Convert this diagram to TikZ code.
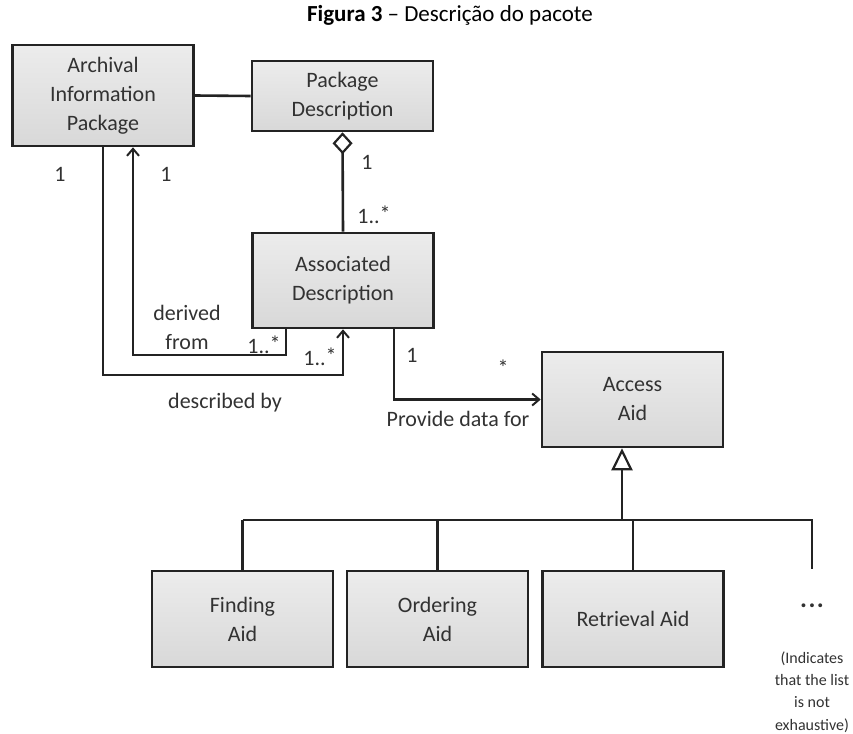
\documentclass[tikz,border=0pt]{standalone}
\usepackage{fontspec}
\setmainfont{Carlito}
\usetikzlibrary{arrows.meta}

\definecolor{ink}{RGB}{50,50,50}
\definecolor{edge}{RGB}{35,35,35}
\definecolor{boxtop}{RGB}{236,236,236}
\definecolor{boxbot}{RGB}{216,216,216}

\tikzset{
  classbox/.style={draw=edge, line width=2.6pt, top color=boxtop, bottom color=boxbot,
    minimum width=181pt, inner sep=0pt, align=center, text=ink,
    font=\fontsize{22}{29}\selectfont},
  lbl/.style={text=ink, inner sep=0pt, font=\fontsize{22}{29}\selectfont, align=center},
  link/.style={draw=edge, line width=2.6pt},
  arr/.style={link, -{Straight Barb[length=7pt,width=12pt,line width=2pt]}},
  gen/.style={link, -{Triangle[open,length=22pt,width=21pt,line width=2.2pt]}},
  agg/.style={link, {Diamond[open,length=22pt,width=20pt,line width=2.2pt]}-},
}

\begin{document}
\begin{tikzpicture}[x=1pt,y=-1pt]
\useasboundingbox (0,0) rectangle (853,733);

% title
\node[inner sep=0pt, font=\fontsize{23}{27}\selectfont] (title) at (450,15)
  {\textbf{Figura 3} – Descrição do pacote};

% classes
\node[classbox, minimum height=101pt] (AIP) at (103,95.5) {Archival\\Information\\Package};
\node[classbox, minimum height=70pt]  (PD)  at (342.5,96) {Package\\Description};
\node[classbox, minimum height=95pt]  (AD)  at (343,280.5) {Associated\\Description};
\node[classbox, minimum height=95pt]  (AA)  at (632.5,399.5) {Access\\Aid};
\node[classbox, minimum height=96pt]  (FA)  at (242.5,619) {Finding\\Aid};
\node[classbox, minimum height=96pt]  (OA)  at (437.5,619) {Ordering\\Aid};
\node[classbox, minimum height=96pt]  (RA)  at (633,619) {Retrieval Aid};

% association between the package and its description
\draw[link] (AIP.east) -- (PD.west);

% aggregation
\draw[agg] (PD.south) -- (AD.north);

% derived from
\coordinate (dfA) at (286,355);
\coordinate (dfB) at (133,355);
\draw[arr] (AD.south -| dfA) -- (dfA) -- (dfB) -- (dfB |- AIP.south);

% described by
\coordinate (dbA) at (103,375);
\draw[arr] (AIP.south) -- (dbA) -| (AD.south);

% provide data for
\coordinate (pd) at (394,300);
\draw[arr] (AD.south -| pd) |- (AA.west);

% generalization tree
\coordinate (bar) at (622,520);
\coordinate (barL) at (242.5,520);
\coordinate (barR) at (812,520);
\coordinate (more) at (812,569);
\draw[gen] (bar) -- (bar |- AA.south);
\draw[link] (barL) -- (barR) -- (more);
\draw[link] (FA.north) -- (FA.north |- bar);
\draw[link] (OA.north) -- (OA.north |- bar);
\draw[link] (RA.north) -- (RA.north |- bar);

% multiplicities and role names
\node[lbl] (m1) at (60,174) {1};
\node[lbl] (m2) at (166,174) {1};
\node[lbl] (m3) at (367,162) {1};
\node[lbl] (m4) at (374,215) {1..\raisebox{2pt}{*}};
\node[lbl] (m5) at (264,345) {1..\raisebox{2pt}{*}};
\node[lbl] (m6) at (320,357) {1..\raisebox{2pt}{*}};
\node[lbl] (m7) at (412,355) {1};
\node[lbl] (m8) at (503,368) {*};
\node[lbl] (r1) at (187,327) {derived\\from};
\node[lbl] (r2) at (225,403) {described by};
\node[lbl] (r3) at (458,419) {Provide data for};

% open list marker
\node[lbl, font=\bfseries\fontsize{26}{30}\selectfont] (dots) at (812,606) {.\hspace{1.5pt}.\hspace{1.5pt}.};
\node[lbl, font=\fontsize{16}{22.3}\selectfont] (note) at (812,692)
  {(Indicates\\that the list\\is not\\exhaustive)};
\end{tikzpicture}
\end{document}
